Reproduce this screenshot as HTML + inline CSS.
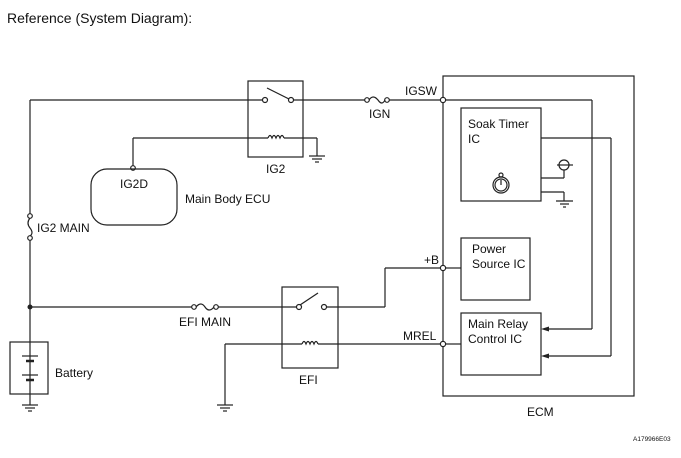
<!DOCTYPE html>
<html><head><meta charset="utf-8"><style>
html,body{margin:0;padding:0;background:#fff;width:681px;height:458px;overflow:hidden}
svg{display:block}
text{font-family:"Liberation Sans",Arial,sans-serif;fill:#111}
</style></head><body>
<svg width="681" height="458" viewBox="0 0 681 458" xmlns="http://www.w3.org/2000/svg">
<text x="7" y="23" font-size="14">Reference (System Diagram):</text>
<g stroke="#222" stroke-width="1.2" fill="none">
<!-- top wire -->
<line x1="30" y1="100" x2="263" y2="100"/>
<line x1="293" y1="100" x2="365" y2="100"/>
<line x1="389" y1="100" x2="441" y2="100"/>
<!-- IG2 relay -->
<rect x="248" y="81" width="55" height="76"/>
<circle cx="265" cy="100" r="2.5" fill="#fff"/>
<circle cx="291" cy="100" r="2.5" fill="#fff"/>
<line x1="267" y1="88" x2="289" y2="99"/>
<line x1="133" y1="138" x2="268" y2="138"/>
<path d="M268 138 q2 -5 4 0 q2 -5 4 0 q2 -5 4 0 q2 -5 4 0"/>
<line x1="284" y1="138" x2="317" y2="138"/>
<line x1="317" y1="138" x2="317" y2="156"/>
<line x1="309" y1="156" x2="325" y2="156"/><line x1="312" y1="159" x2="322" y2="159"/><line x1="315" y1="162" x2="319" y2="162"/>
<!-- IGN fuse -->
<circle cx="367" cy="100" r="2.3" fill="#fff"/><circle cx="387" cy="100" r="2.3" fill="#fff"/>
<path d="M369 100 q4 -6 9 0 q4 6 7 0"/>
<!-- IG2D -->
<line x1="133" y1="138" x2="133" y2="166"/>
<circle cx="133" cy="168" r="2.3" fill="#fff"/>
<rect x="91" y="169" width="86" height="56" rx="16"/>
<!-- left vertical -->
<line x1="30" y1="100" x2="30" y2="214"/>
<circle cx="30" cy="216" r="2.3" fill="#fff"/><circle cx="30" cy="238" r="2.3" fill="#fff"/>
<path d="M30 218 q-4 5 0 10 q4 5 0 8"/>
<line x1="30" y1="240" x2="30" y2="342"/>
<!-- battery -->
<rect x="10" y="342" width="38" height="52"/>
<line x1="30" y1="342" x2="30" y2="405"/>
<line x1="22" y1="356" x2="38" y2="356"/><line x1="26" y1="361" x2="34" y2="361" stroke-width="2.5"/>
<line x1="22" y1="375" x2="38" y2="375"/><line x1="26" y1="380" x2="34" y2="380" stroke-width="2.5"/>
<line x1="22" y1="405" x2="38" y2="405"/><line x1="25" y1="408" x2="35" y2="408"/><line x1="28" y1="411" x2="32" y2="411"/>
<!-- EFI main -->
<line x1="30" y1="307" x2="192" y2="307"/>
<circle cx="194" cy="307" r="2.3" fill="#fff"/><circle cx="216" cy="307" r="2.3" fill="#fff"/>
<path d="M196 307 q5 -6 9 0 q4 6 9 0"/>
<line x1="218" y1="307" x2="297" y2="307"/>
<!-- EFI relay -->
<rect x="282" y="287" width="56" height="81"/>
<circle cx="299" cy="307" r="2.5" fill="#fff"/><circle cx="324" cy="307" r="2.5" fill="#fff"/>
<line x1="300" y1="305" x2="318" y2="293"/>
<line x1="326" y1="307" x2="385" y2="307"/>
<line x1="385" y1="307" x2="385" y2="268"/>
<line x1="385" y1="268" x2="441" y2="268"/>
<line x1="225" y1="344" x2="302" y2="344"/>
<path d="M302 344 q2 -5 4 0 q2 -5 4 0 q2 -5 4 0 q2 -5 4 0"/>
<line x1="318" y1="344" x2="441" y2="344"/>
<line x1="225" y1="344" x2="225" y2="405"/>
<line x1="217" y1="405" x2="233" y2="405"/><line x1="220" y1="408" x2="230" y2="408"/><line x1="223" y1="411" x2="227" y2="411"/>
<!-- ECM -->
<rect x="443" y="76" width="191" height="320"/>
<line x1="445" y1="100" x2="592" y2="100"/>
<line x1="592" y1="100" x2="592" y2="329"/>
<line x1="592" y1="329" x2="548" y2="329"/>
<line x1="541" y1="138" x2="611" y2="138"/>
<line x1="611" y1="138" x2="611" y2="356"/>
<line x1="611" y1="356" x2="548" y2="356"/>
<rect x="461" y="108" width="80" height="93"/>
<rect x="461" y="238" width="69" height="62"/>
<rect x="461" y="313" width="80" height="62"/>
<line x1="445" y1="268" x2="461" y2="268"/>
<line x1="445" y1="344" x2="461" y2="344"/>
<!-- soak side -->
<line x1="541" y1="178" x2="564" y2="178"/>
<line x1="564" y1="178" x2="564" y2="170"/>
<circle cx="564" cy="165" r="5"/>
<line x1="557" y1="165" x2="573" y2="165"/>
<line x1="541" y1="192" x2="564" y2="192"/>
<line x1="564" y1="192" x2="564" y2="201"/>
<line x1="556" y1="201" x2="573" y2="201"/><line x1="560" y1="204" x2="569" y2="204"/><line x1="563" y1="207" x2="566" y2="207"/>
<!-- clock -->
<circle cx="501" cy="185" r="8"/><circle cx="501" cy="185" r="6"/>
<circle cx="501" cy="175" r="2"/>
<line x1="501" y1="185" x2="501" y2="180"/>
</g>
<polygon points="541,329 549,326.5 549,331.5" fill="#222"/>
<polygon points="541,356 549,353.5 549,358.5" fill="#222"/>
<circle cx="30" cy="307" r="2.5" fill="#222"/>
<g fill="#fff" stroke="#222" stroke-width="1.2">
<circle cx="443" cy="100" r="2.6"/><circle cx="443" cy="268" r="2.6"/><circle cx="443" cy="344" r="2.6"/>
</g>
<g font-size="12">
<text x="266" y="173">IG2</text>
<text x="369" y="118">IGN</text>
<text x="405" y="95">IGSW</text>
<text x="120" y="188">IG2D</text>
<text x="185" y="203">Main Body ECU</text>
<text x="37" y="232">IG2 MAIN</text>
<text x="55" y="377">Battery</text>
<text x="179" y="326">EFI MAIN</text>
<text x="299" y="384">EFI</text>
<text x="424" y="264">+B</text>
<text x="403" y="340">MREL</text>
<text x="468" y="128">Soak Timer</text>
<text x="468" y="143">IC</text>
<text x="472" y="253">Power</text>
<text x="472" y="268">Source IC</text>
<text x="468" y="328">Main Relay</text>
<text x="468" y="343">Control IC</text>
<text x="527" y="416">ECM</text>
<text x="633" y="441" font-size="6.5">A179966E03</text>
</g>
</svg>
</body></html>
